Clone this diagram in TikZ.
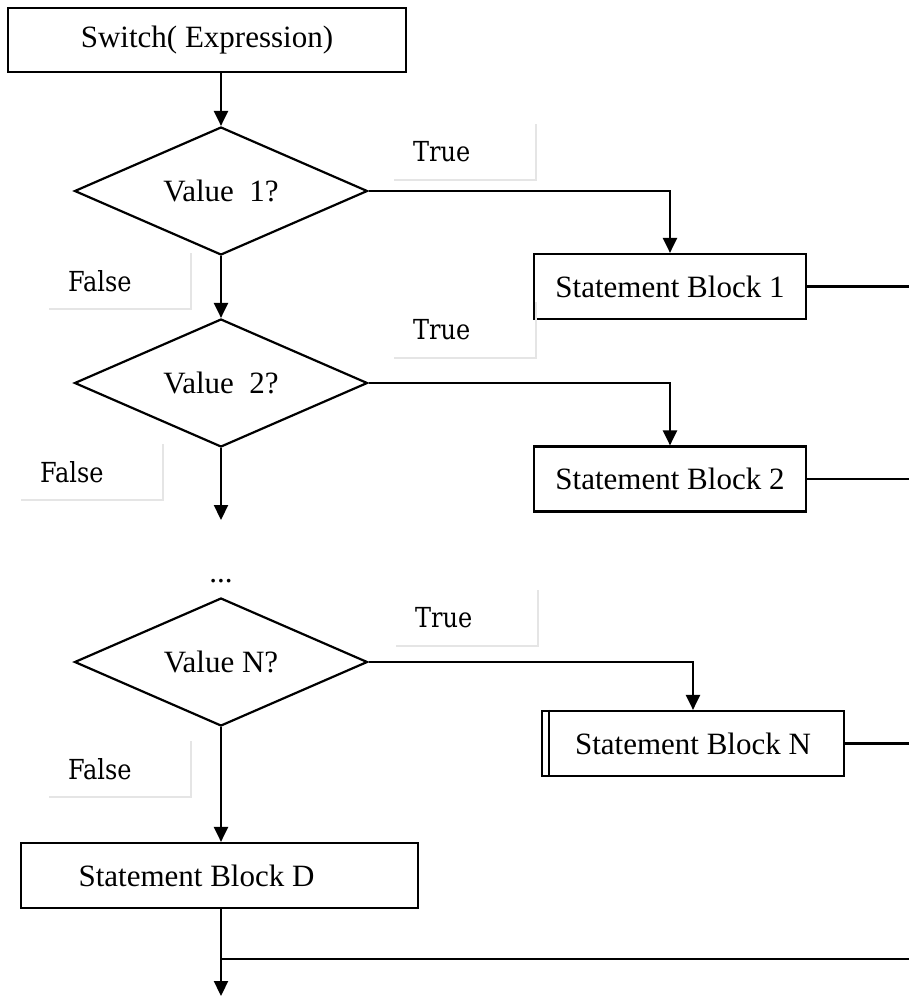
\documentclass[tikz,border=0pt]{standalone}
\usepackage{fontspec}
\setmainfont{Liberation Serif}
\newfontfamily\tagfont{DejaVu Serif}
\usetikzlibrary{arrows.meta,shapes.geometric}

\begin{document}
\begin{tikzpicture}
[x=1pt,y=-1pt,
>={Triangle[width=14pt,length=15pt]},
line width=2.2pt,
font=\fontsize{31}{37}\selectfont,
block/.style={draw, rectangle, inner sep=0pt, minimum height=65pt},
decision/.style={draw, diamond, inner sep=0pt, aspect=2.3,
  minimum width=293pt, minimum height=128pt},
tag/.style={anchor=south west, inner xsep=18pt, inner ysep=0pt,
  text width=104pt, minimum height=54pt, align=left,
  font=\fontsize{24}{29}\tagfont},
tagedge/.style={draw=black!10, line width=2pt}]
  \useasboundingbox (0,0) rectangle (909,997);
  \coordinate (rim) at (909,0);
  % main column
  \node[block, minimum width=398pt, minimum height=64pt] (switch) at (207,40) {Switch( Expression)};
  \node[decision] (v1) at (221,191) {Value\ \ 1?};
  \node[decision] (v2) at (221,383) {Value\ \ 2?};
  \coordinate (gap) at (221,520);
  \node (dots) at (221,581) {...};
  \node[decision] (vN) at (221,662) {Value N?};
  \node[block, minimum width=397pt] (sD) at (219.5,875.5) {Statement Block D\kern46pt};
  \coordinate (join) at (221,959);
  \coordinate (out) at (221,996);
  % statement blocks
  \node[block, minimum width=272pt] (s1) at (670,286.5) {Statement Block 1};
  \node[block, minimum width=272pt] (s2) at (670,479) {Statement Block 2};
  \node[block, minimum width=302pt] (sN) at (693,743.5) {Statement Block N};
  \draw[line width=1.2pt] ([xshift=8pt]sN.north west) -- ([xshift=8pt]sN.south west);
  % labels
  \node[tag] (t1) at (394,180) {\scalebox{1}[1.15]{True}};
  \node[tag] (t2) at (394,358) {\scalebox{1}[1.15]{True}};
  \node[tag] (tN) at (396,646) {\scalebox{1}[1.15]{True}};
  \node[tag] (f1) at (49,309) {\scalebox{1}[1.15]{False}};
  \node[tag] (f2) at (21,500) {\scalebox{1}[1.15]{False}};
  \node[tag] (fN) at (49,797) {\scalebox{1}[1.15]{False}};
  \foreach \n in {t1,t2,tN,f1,f2,fN}
    \draw[tagedge] (\n.north east) -- (\n.south east) -- (\n.south west);
  % connectors
  \draw[->] (switch.south -| v1.north) -- (v1);
  \draw[->] (v1) -- (v2);
  \draw[->] (v2) -- (gap);
  \draw[->] (vN) -- (vN |- sD.north);
  \draw[->] (sD.south -| vN.south) -- (out);
  \draw[->] (v1.east) -| (s1.north);
  \draw[->] (v2.east) -| (s2.north);
  \draw[->] (vN.east) -| (sN.north);
  \draw (s1.east) -- (s1.east -| rim);
  \draw (s2.east) -- (s2.east -| rim);
  \draw (sN.east) -- (sN.east -| rim);
  \draw (join) -- (join -| rim);
\end{tikzpicture}
\end{document}
